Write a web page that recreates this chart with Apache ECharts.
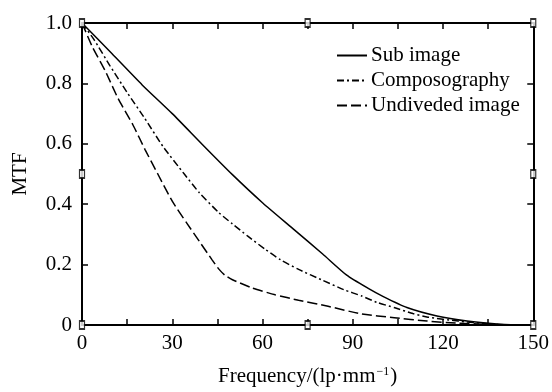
<!DOCTYPE html>
<html>
<head>
<meta charset="utf-8">
<script src="https://cdn.jsdelivr.net/npm/echarts@6/dist/echarts.min.js"></script>
<style>
  html, body { margin: 0; padding: 0; background: #fff; }
  #chart { width: 552px; height: 392px; }
</style>
</head>
<body>
<div id="chart"></div>
<script>
// MTF curves versus spatial frequency (lp/mm)
const seriesNames = ['Sub image', 'Composography', 'Undiveded image'];

const subImage = [
  [0, 1.0], [10, 0.898], [20, 0.795], [30, 0.70], [40, 0.598], [50, 0.498],
  [60, 0.405], [70, 0.32], [80, 0.235], [88, 0.165], [95, 0.122], [100, 0.095],
  [108, 0.058], [118, 0.03], [128, 0.013], [138, 0.003], [145, 0.0]
];

const composography = [
  [0, 1.0], [4, 0.945], [9.2, 0.86], [15, 0.77], [20.8, 0.685], [27, 0.59],
  [34, 0.50], [39, 0.438], [45.5, 0.372], [50, 0.335], [55, 0.295], [61, 0.25],
  [66, 0.216], [72, 0.184], [80, 0.148], [87, 0.117], [93, 0.096], [98, 0.075],
  [104, 0.057], [110, 0.038], [115, 0.026], [125, 0.013], [135, 0.004], [142, 0.0]
];

const undivided = [
  [0, 1.0], [3.5, 0.92], [7.6, 0.844], [12, 0.75], [16.9, 0.663], [21, 0.58],
  [25.2, 0.50], [30, 0.41], [35, 0.335], [39, 0.277], [43.3, 0.215], [45.5, 0.185],
  [47.5, 0.165], [50, 0.15], [56.5, 0.123], [64.2, 0.10], [72, 0.082], [81.8, 0.062],
  [92.7, 0.037], [103.8, 0.024], [114.7, 0.013], [125, 0.006], [135, 0.002], [142, 0.0]
];

// small frame markers on the axes
const frameMarks = [[75, 0], [75, 1], [0, 0.5], [150, 0.5], [0, 0], [0, 1], [150, 0], [150, 1]];

const xTicks = { min: 0, max: 150, step: 15, labelStep: 30 };
const yTicks = { min: 0, max: 1, step: 0.2 };

const fontFamily = '"Liberation Serif", "DejaVu Serif", serif';

const chart = echarts.init(document.getElementById('chart'), null, { renderer: 'canvas' });

const axisLine = { show: true, onZero: false, lineStyle: { color: '#000', width: 2 } };
const tickStyle = { show: true, inside: true, length: 6, lineStyle: { color: '#000', width: 1.5 } };

chart.setOption({
  animation: false,
  backgroundColor: '#fff',
  textStyle: { fontFamily },
  grid: { left: 82, right: 15, top: 23, bottom: 63, containLabel: false },
  legend: {
    data: seriesNames,
    orient: 'vertical',
    left: 331,
    top: 40,
    itemWidth: 30,
    itemHeight: 14,
    itemGap: 4,
    itemStyle: { opacity: 0 },
    textStyle: { fontFamily, fontSize: 21, color: '#000', padding: [0, 0, 0, -1] }
  },
  xAxis: [
    {
      type: 'value',
      min: xTicks.min, max: xTicks.max, interval: xTicks.step,
      position: 'bottom',
      axisLine,
      axisTick: tickStyle,
      splitLine: { show: false },
      axisLabel: {
        color: '#000', fontSize: 21, fontFamily, margin: 8,
        formatter: v => (v % xTicks.labelStep === 0 ? String(v) : '')
      },
      name: '{a|Frequency/(lp·mm}{s|−1}{a|)}',
      nameLocation: 'middle',
      nameGap: 41,
      nameTextStyle: {
        rich: {
          a: { fontFamily, fontSize: 21, color: '#000' },
          s: { fontFamily, fontSize: 12, color: '#000', verticalAlign: 'top', padding: [0, 1, 9, 1] }
        }
      }
    },
    {
      type: 'value',
      min: xTicks.min, max: xTicks.max, interval: xTicks.step,
      position: 'top',
      axisLine,
      axisTick: tickStyle,
      axisLabel: { show: false },
      splitLine: { show: false }
    }
  ],
  yAxis: [
    {
      type: 'value',
      min: yTicks.min, max: yTicks.max, interval: yTicks.step,
      position: 'left',
      axisLine,
      axisTick: tickStyle,
      splitLine: { show: false },
      axisLabel: {
        color: '#000', fontSize: 21, fontFamily, margin: 10,
        formatter: v => (v === 0 ? '0' : v.toFixed(1))
      },
      name: 'MTF',
      nameLocation: 'middle',
      nameGap: 51,
      nameRotate: 90,
      nameTextStyle: { fontFamily, fontSize: 21, color: '#000' }
    },
    {
      type: 'value',
      min: yTicks.min, max: yTicks.max, interval: yTicks.step,
      position: 'right',
      axisLine,
      axisTick: tickStyle,
      axisLabel: { show: false },
      splitLine: { show: false }
    }
  ],
  series: [
    {
      name: seriesNames[0], type: 'line', data: subImage, smooth: 0.2,
      symbol: 'none', lineStyle: { color: '#000', width: 1.5, type: 'solid' },
      itemStyle: { color: '#000' }
    },
    {
      name: seriesNames[1], type: 'line', data: composography, smooth: 0.2,
      symbol: 'none', lineStyle: { color: '#000', width: 1.5, type: [7, 3, 2, 3] },
      itemStyle: { color: '#000' }
    },
    {
      name: seriesNames[2], type: 'line', data: undivided, smooth: 0.2,
      symbol: 'none', lineStyle: { color: '#000', width: 1.5, type: [10, 4] },
      itemStyle: { color: '#000' }
    },
    {
      name: 'frame', type: 'scatter', data: frameMarks,
      symbol: 'rect', symbolSize: [5, 8], silent: true, z: 5,
      itemStyle: { color: '#fff', borderColor: '#000', borderWidth: 1.5 }
    }
  ]
});
</script>
</body>
</html>
